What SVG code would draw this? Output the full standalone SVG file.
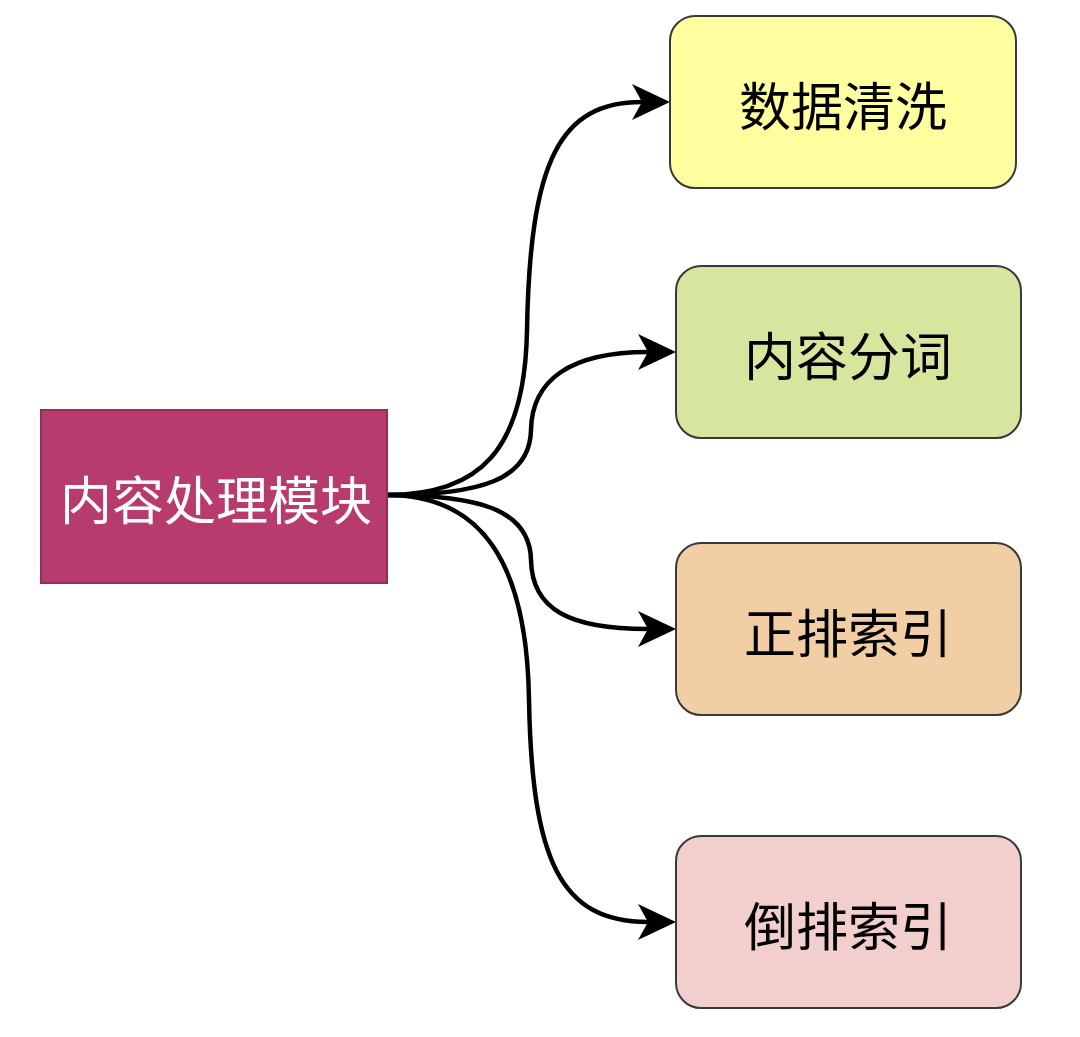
<svg xmlns="http://www.w3.org/2000/svg" width="1080" height="1037" viewBox="0 0 1080 1037">
<style>
.box{stroke:#36393d;stroke-width:2}
.lbl{font-family:"Noto Sans CJK SC","Noto Sans",sans-serif;font-size:52px;text-anchor:middle;dominant-baseline:central;fill:#000}
.edge{fill:none;stroke:#000;stroke-width:4.5}
</style>
<defs>
<marker id="arr" markerUnits="userSpaceOnUse" viewBox="0 0 38 36" refX="10" refY="18" markerWidth="38" markerHeight="36" orient="auto">
<path d="M0,0 L38,18 L0,36 L10,18 Z" fill="#000"/>
</marker>
</defs>
<rect width="1080" height="1037" fill="#fff"/>
<g id="connectors">
<path class="edge" marker-end="url(#arr)" d="M387,495 C480,495 525,450 527,330 C530,160 560,102 642,102"/>
<path class="edge" marker-end="url(#arr)" d="M387,495 C480,495 530,480 531,430 C532,380 570,352 648,352"/>
<path class="edge" marker-end="url(#arr)" d="M387,495 C480,495 530,510 531,560 C532,610 570,629 648,629"/>
<path class="edge" marker-end="url(#arr)" d="M387,495 C480,495 527,560 529,700 C532,860 560,922 648,922"/>
</g>
<g id="main">
<rect x="41" y="410" width="346" height="173" fill="#b83b6e" stroke="#982c58" stroke-width="2"/>
<text class="lbl" x="216" y="497" style="fill:#fff">内容处理模块</text>
</g>
<g id="n1">
<rect class="box" x="670" y="16" width="346" height="172" rx="25" fill="#ffff9f"/>
<text class="lbl" x="843" y="103">数据清洗</text>
</g>
<g id="n2">
<rect class="box" x="676" y="266" width="345" height="172" rx="25" fill="#d7e69f"/>
<text class="lbl" x="848" y="353">内容分词</text>
</g>
<g id="n3">
<rect class="box" x="676" y="543" width="345" height="172" rx="25" fill="#f2cea5"/>
<text class="lbl" x="848" y="630">正排索引</text>
</g>
<g id="n4">
<rect class="box" x="676" y="836" width="345" height="172" rx="25" fill="#f2cecd"/>
<text class="lbl" x="848" y="923">倒排索引</text>
</g>
</svg>
